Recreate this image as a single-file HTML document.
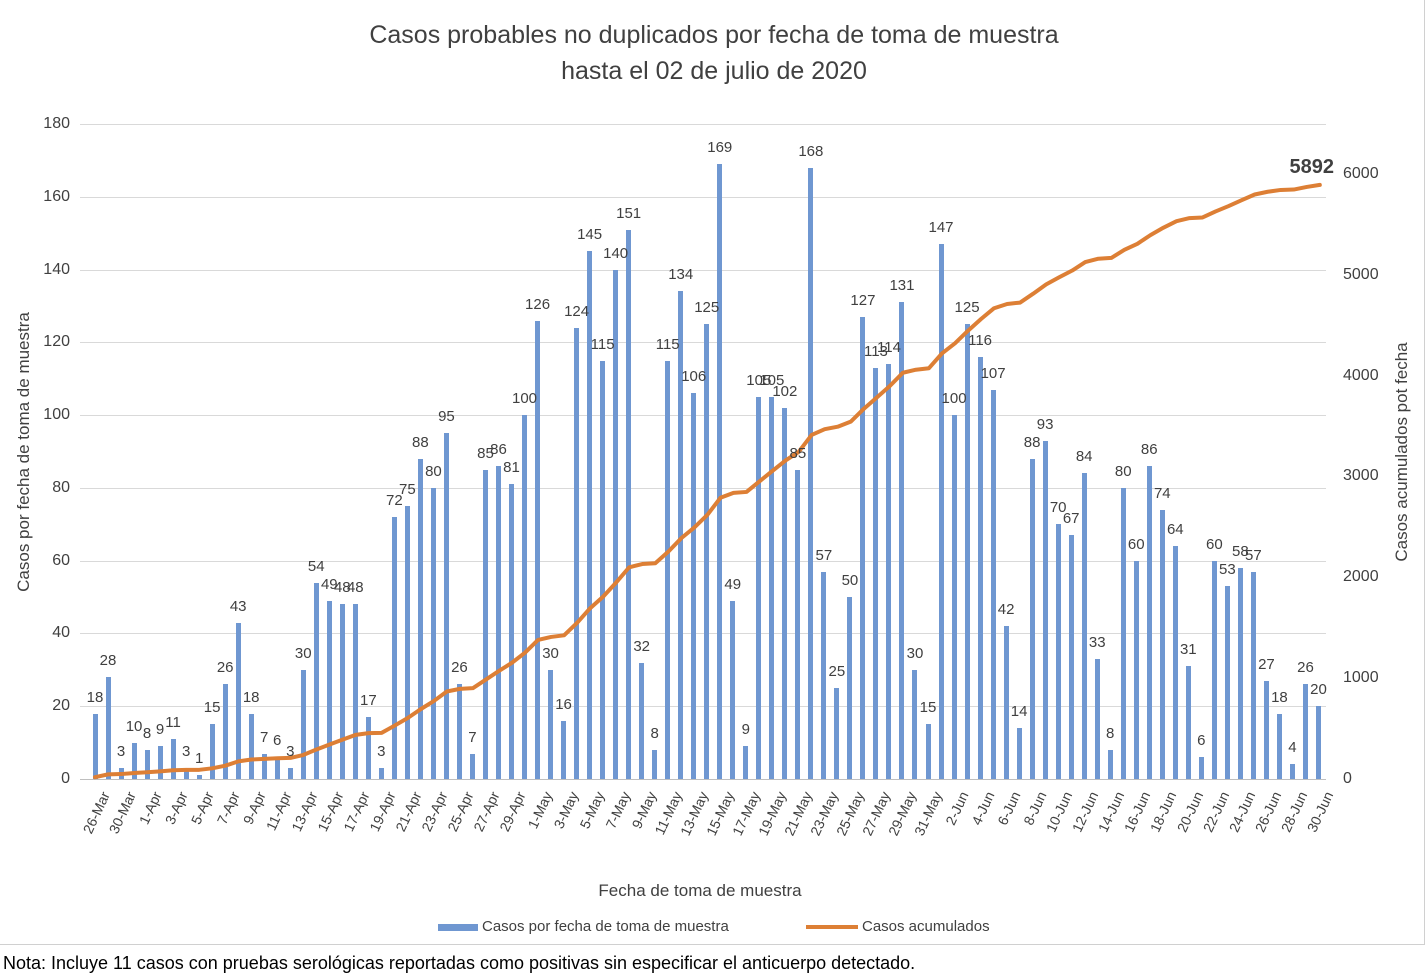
<!DOCTYPE html>
<html><head><meta charset="utf-8"><style>
body{margin:0;width:1428px;height:978px;background:#fff;font-family:"Liberation Sans",sans-serif;position:relative;overflow:hidden;color:#404040}
.frame{position:absolute;left:0;top:0;width:1424px;height:944px;border-right:1px solid #d0d0d0;border-bottom:1px solid #d0d0d0}
.t{position:absolute;left:0;width:1428px;text-align:center;font-size:25px;color:#404040}
.grid{position:absolute;left:80px;width:1246px;height:1px;background:#d9d9d9}
.yl{position:absolute;right:1358px;font-size:16px;color:#404040;transform:translateY(-50%)}
.yr{position:absolute;left:1343px;font-size:16px;color:#404040;transform:translateY(-50%)}
#cols{position:absolute;left:88.5px;top:0;height:779px;display:flex}
.c{position:relative;width:13.03px;height:779px;flex:none}
.c i{position:absolute;bottom:0;left:50%;width:5px;margin-left:-2.5px;height:calc(var(--v)*3.639px);background:#6f97d1}
.c b{position:absolute;font-weight:normal;bottom:calc(var(--v)*3.639px + 8px);left:50%;transform:translateX(-50%);font-size:15px;white-space:nowrap;color:#404040;z-index:3}
.c s{position:absolute;text-decoration:none;top:789px;right:calc(50% - 3px);transform-origin:100% 0;transform:rotate(-65deg);font-size:14px;white-space:nowrap;color:#404040}
</style></head><body>
<div class="frame"></div>
<div class="t" style="top:21px">Casos probables no duplicados por fecha de toma de muestra</div>
<div class="t" style="top:57px">hasta el 02 de julio de 2020</div>
<div class="grid" style="top:124px"></div><div class="grid" style="top:197px"></div><div class="grid" style="top:270px"></div><div class="grid" style="top:342px"></div><div class="grid" style="top:415px"></div><div class="grid" style="top:488px"></div><div class="grid" style="top:561px"></div><div class="grid" style="top:633px"></div><div class="grid" style="top:706px"></div><div class="grid" style="top:779px;background:#bfbfbf"></div>
<div class="yl" style="top:124px">180</div><div class="yl" style="top:197px">160</div><div class="yl" style="top:270px">140</div><div class="yl" style="top:342px">120</div><div class="yl" style="top:415px">100</div><div class="yl" style="top:488px">80</div><div class="yl" style="top:561px">60</div><div class="yl" style="top:633px">40</div><div class="yl" style="top:706px">20</div><div class="yl" style="top:779px">0</div>
<div class="yr" style="top:174px">6000</div><div class="yr" style="top:275px">5000</div><div class="yr" style="top:376px">4000</div><div class="yr" style="top:476px">3000</div><div class="yr" style="top:577px">2000</div><div class="yr" style="top:678px">1000</div><div class="yr" style="top:779px">0</div>
<div style="position:absolute;left:24px;top:452px;transform:translate(-50%,-50%) rotate(-90deg);font-size:17px;white-space:nowrap">Casos por fecha de toma de muestra</div>
<div style="position:absolute;left:1402px;top:452px;transform:translate(-50%,-50%) rotate(-90deg);font-size:17px;white-space:nowrap">Casos acumulados pot fecha</div>
<div id="cols">
<div class="c" style="--v:18"><i></i><b>18</b><s>26-Mar</s></div>
<div class="c" style="--v:28"><i></i><b>28</b></div>
<div class="c" style="--v:3"><i></i><b>3</b><s>30-Mar</s></div>
<div class="c" style="--v:10"><i></i><b>10</b></div>
<div class="c" style="--v:8"><i></i><b>8</b><s>1-Apr</s></div>
<div class="c" style="--v:9"><i></i><b>9</b></div>
<div class="c" style="--v:11"><i></i><b>11</b><s>3-Apr</s></div>
<div class="c" style="--v:3"><i></i><b>3</b></div>
<div class="c" style="--v:1"><i></i><b>1</b><s>5-Apr</s></div>
<div class="c" style="--v:15"><i></i><b>15</b></div>
<div class="c" style="--v:26"><i></i><b>26</b><s>7-Apr</s></div>
<div class="c" style="--v:43"><i></i><b>43</b></div>
<div class="c" style="--v:18"><i></i><b>18</b><s>9-Apr</s></div>
<div class="c" style="--v:7"><i></i><b>7</b></div>
<div class="c" style="--v:6"><i></i><b>6</b><s>11-Apr</s></div>
<div class="c" style="--v:3"><i></i><b>3</b></div>
<div class="c" style="--v:30"><i></i><b>30</b><s>13-Apr</s></div>
<div class="c" style="--v:54"><i></i><b>54</b></div>
<div class="c" style="--v:49"><i></i><b>49</b><s>15-Apr</s></div>
<div class="c" style="--v:48"><i></i><b>48</b></div>
<div class="c" style="--v:48"><i></i><b>48</b><s>17-Apr</s></div>
<div class="c" style="--v:17"><i></i><b>17</b></div>
<div class="c" style="--v:3"><i></i><b>3</b><s>19-Apr</s></div>
<div class="c" style="--v:72"><i></i><b>72</b></div>
<div class="c" style="--v:75"><i></i><b>75</b><s>21-Apr</s></div>
<div class="c" style="--v:88"><i></i><b>88</b></div>
<div class="c" style="--v:80"><i></i><b>80</b><s>23-Apr</s></div>
<div class="c" style="--v:95"><i></i><b>95</b></div>
<div class="c" style="--v:26"><i></i><b>26</b><s>25-Apr</s></div>
<div class="c" style="--v:7"><i></i><b>7</b></div>
<div class="c" style="--v:85"><i></i><b>85</b><s>27-Apr</s></div>
<div class="c" style="--v:86"><i></i><b>86</b></div>
<div class="c" style="--v:81"><i></i><b>81</b><s>29-Apr</s></div>
<div class="c" style="--v:100"><i></i><b>100</b></div>
<div class="c" style="--v:126"><i></i><b>126</b><s>1-May</s></div>
<div class="c" style="--v:30"><i></i><b>30</b></div>
<div class="c" style="--v:16"><i></i><b>16</b><s>3-May</s></div>
<div class="c" style="--v:124"><i></i><b>124</b></div>
<div class="c" style="--v:145"><i></i><b>145</b><s>5-May</s></div>
<div class="c" style="--v:115"><i></i><b>115</b></div>
<div class="c" style="--v:140"><i></i><b>140</b><s>7-May</s></div>
<div class="c" style="--v:151"><i></i><b>151</b></div>
<div class="c" style="--v:32"><i></i><b>32</b><s>9-May</s></div>
<div class="c" style="--v:8"><i></i><b>8</b></div>
<div class="c" style="--v:115"><i></i><b>115</b><s>11-May</s></div>
<div class="c" style="--v:134"><i></i><b>134</b></div>
<div class="c" style="--v:106"><i></i><b>106</b><s>13-May</s></div>
<div class="c" style="--v:125"><i></i><b>125</b></div>
<div class="c" style="--v:169"><i></i><b>169</b><s>15-May</s></div>
<div class="c" style="--v:49"><i></i><b>49</b></div>
<div class="c" style="--v:9"><i></i><b>9</b><s>17-May</s></div>
<div class="c" style="--v:105"><i></i><b>105</b></div>
<div class="c" style="--v:105"><i></i><b>105</b><s>19-May</s></div>
<div class="c" style="--v:102"><i></i><b>102</b></div>
<div class="c" style="--v:85"><i></i><b>85</b><s>21-May</s></div>
<div class="c" style="--v:168"><i></i><b>168</b></div>
<div class="c" style="--v:57"><i></i><b>57</b><s>23-May</s></div>
<div class="c" style="--v:25"><i></i><b>25</b></div>
<div class="c" style="--v:50"><i></i><b>50</b><s>25-May</s></div>
<div class="c" style="--v:127"><i></i><b>127</b></div>
<div class="c" style="--v:113"><i></i><b>113</b><s>27-May</s></div>
<div class="c" style="--v:114"><i></i><b>114</b></div>
<div class="c" style="--v:131"><i></i><b>131</b><s>29-May</s></div>
<div class="c" style="--v:30"><i></i><b>30</b></div>
<div class="c" style="--v:15"><i></i><b>15</b><s>31-May</s></div>
<div class="c" style="--v:147"><i></i><b>147</b></div>
<div class="c" style="--v:100"><i></i><b>100</b><s>2-Jun</s></div>
<div class="c" style="--v:125"><i></i><b>125</b></div>
<div class="c" style="--v:116"><i></i><b>116</b><s>4-Jun</s></div>
<div class="c" style="--v:107"><i></i><b>107</b></div>
<div class="c" style="--v:42"><i></i><b>42</b><s>6-Jun</s></div>
<div class="c" style="--v:14"><i></i><b>14</b></div>
<div class="c" style="--v:88"><i></i><b>88</b><s>8-Jun</s></div>
<div class="c" style="--v:93"><i></i><b>93</b></div>
<div class="c" style="--v:70"><i></i><b>70</b><s>10-Jun</s></div>
<div class="c" style="--v:67"><i></i><b>67</b></div>
<div class="c" style="--v:84"><i></i><b>84</b><s>12-Jun</s></div>
<div class="c" style="--v:33"><i></i><b>33</b></div>
<div class="c" style="--v:8"><i></i><b>8</b><s>14-Jun</s></div>
<div class="c" style="--v:80"><i></i><b>80</b></div>
<div class="c" style="--v:60"><i></i><b>60</b><s>16-Jun</s></div>
<div class="c" style="--v:86"><i></i><b>86</b></div>
<div class="c" style="--v:74"><i></i><b>74</b><s>18-Jun</s></div>
<div class="c" style="--v:64"><i></i><b>64</b></div>
<div class="c" style="--v:31"><i></i><b>31</b><s>20-Jun</s></div>
<div class="c" style="--v:6"><i></i><b>6</b></div>
<div class="c" style="--v:60"><i></i><b>60</b><s>22-Jun</s></div>
<div class="c" style="--v:53"><i></i><b>53</b></div>
<div class="c" style="--v:58"><i></i><b>58</b><s>24-Jun</s></div>
<div class="c" style="--v:57"><i></i><b>57</b></div>
<div class="c" style="--v:27"><i></i><b>27</b><s>26-Jun</s></div>
<div class="c" style="--v:18"><i></i><b>18</b></div>
<div class="c" style="--v:4"><i></i><b>4</b><s>28-Jun</s></div>
<div class="c" style="--v:26"><i></i><b>26</b></div>
<div class="c" style="--v:20"><i></i><b>20</b><s>30-Jun</s></div>
</div>
<svg style="position:absolute;left:0;top:0;z-index:2" width="1428" height="978">
<g transform="translate(95,779) scale(13.03,-0.10083)">
<polyline fill="none" stroke="#dd7f35" stroke-width="4" stroke-linejoin="round" stroke-linecap="round" vector-effect="non-scaling-stroke" points="0,18 1,46 2,49 3,59 4,67 5,76 6,87 7,90 8,91 9,106 10,132 11,175 12,193 13,200 14,206 15,209 16,239 17,293 18,342 19,390 20,438 21,455 22,458 23,530 24,605 25,693 26,773 27,868 28,894 29,901 30,986 31,1072 32,1153 33,1253 34,1379 35,1409 36,1425 37,1549 38,1694 39,1809 40,1949 41,2100 42,2132 43,2140 44,2255 45,2389 46,2495 47,2620 48,2789 49,2838 50,2847 51,2952 52,3057 53,3159 54,3244 55,3412 56,3469 57,3494 58,3544 59,3671 60,3784 61,3898 62,4029 63,4059 64,4074 65,4221 66,4321 67,4446 68,4562 69,4669 70,4711 71,4725 72,4813 73,4906 74,4976 75,5043 76,5127 77,5160 78,5168 79,5248 80,5308 81,5394 82,5468 83,5532 84,5563 85,5569 86,5629 87,5682 88,5740 89,5797 90,5824 91,5842 92,5846 93,5872 94,5892"/>
</g>
<text x="1334" y="173" text-anchor="end" font-family="Liberation Sans" font-weight="bold" font-size="20" fill="#404040">5892</text>
</svg>
<div style="position:absolute;left:0;width:1400px;text-align:center;top:881px;font-size:17px">Fecha de toma de muestra</div>
<div style="position:absolute;left:438px;top:924px;width:40px;height:7px;background:#6f97d1"></div>
<div style="position:absolute;left:482px;top:918px;font-size:15px">Casos por fecha de toma de muestra</div>
<div style="position:absolute;left:806px;top:925px;width:52px;height:4px;background:#dd7f35"></div>
<div style="position:absolute;left:862px;top:918px;font-size:15px">Casos acumulados</div>
<div style="position:absolute;left:3px;top:953px;font-size:18px;color:#000">Nota: Incluye 11 casos con pruebas serológicas reportadas como positivas sin especificar el anticuerpo detectado.</div>
</body></html>
